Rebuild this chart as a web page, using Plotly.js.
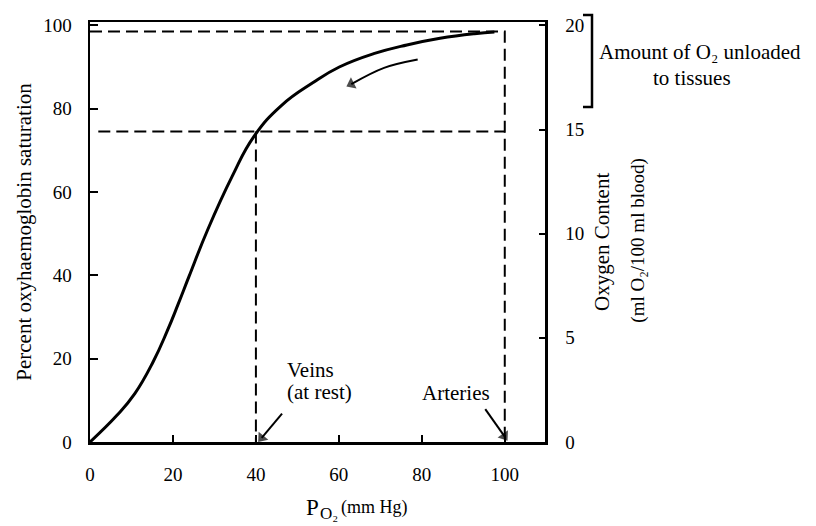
<!DOCTYPE html>
<html>
<head>
<meta charset="utf-8">
<script src="https://cdn.plot.ly/plotly-3.0.1.min.js"></script>
<style>html,body{margin:0;padding:0;background:#fff;}#chart{width:816px;height:526px;}</style>
</head>
<body>
<div id="chart"></div>
<script>
// Oxyhaemoglobin dissociation curve
const po2 = [0, 6.5, 10.8, 15.2, 18.6, 21.3, 23.9, 28.4, 34.3, 39.5, 46.2, 53.7, 60.1, 68.4, 76.4, 84.4, 92.7, 97.5];
const saturation = [0, 6.4, 11.6, 19.2, 26.6, 33.2, 39.8, 51.0, 63.8, 73.3, 80.8, 86.2, 90.0, 93.2, 95.3, 96.9, 98.0, 98.4];

// reference points
const veinsPO2 = 40, veinsSat = 74.5;
const arteriesPO2 = 100, arteriesSat = 98.5;
const dashStartPO2 = 2;

// tick labels
const xTicks = [0, 20, 40, 60, 80, 100];
const yTicks = [0, 20, 40, 60, 80, 100];
const y2Ticks = [0, 5, 10, 15, 20];

// arrows (tail ... head)
const curveArrowX = [79, 70.9, 63];
const curveArrowY = [91.8, 89.8, 85.9];
const veinsArrowX = [46.3, 41.4];
const veinsArrowY = [6.8, 1.0];
const arteriesArrowX = [95.3, 99.9];
const arteriesArrowY = [7.9, 1.4];

const serif = "Liberation Serif, Times New Roman, serif";
const dashPat = "12px,6px";

function arrowTrace(xs, ys, spline) {
  const n = xs.length;
  return {x: xs, y: ys, type: "scatter", mode: "lines+markers", hoverinfo: "skip", cliponaxis: false,
    line: {color: "#000", width: 2, shape: spline ? "spline" : "linear"},
    marker: {symbol: xs.map((_, i) => i === n - 1 ? "triangle-up" : "circle"),
             size: xs.map((_, i) => i === n - 1 ? 11 : 0),
             angleref: "previous", color: "#000", line: {width: 0}}};
}

const traces = [
  {x: po2, y: saturation, type: "scatter", mode: "lines",
   line: {color: "#000", width: 3, shape: "spline", smoothing: 1.3}, hoverinfo: "skip", cliponaxis: false},
  {x: [0, arteriesPO2, arteriesPO2], y: [arteriesSat, arteriesSat, 0], type: "scatter", mode: "lines",
   line: {color: "#000", width: 2, dash: dashPat}, hoverinfo: "skip"},
  {x: [dashStartPO2, arteriesPO2], y: [veinsSat, veinsSat], type: "scatter", mode: "lines",
   line: {color: "#000", width: 2, dash: dashPat}, hoverinfo: "skip"},
  {x: [veinsPO2, veinsPO2], y: [veinsSat, 0], type: "scatter", mode: "lines",
   line: {color: "#000", width: 2, dash: dashPat}, hoverinfo: "skip"},
  arrowTrace(curveArrowX, curveArrowY, true),
  arrowTrace(veinsArrowX, veinsArrowY, false),
  arrowTrace(arteriesArrowX, arteriesArrowY, false),
  {x: [0, 100], y: [0, 20], yaxis: "y2", type: "scatter", mode: "none", hoverinfo: "skip"}
];

const layout = {
  width: 816, height: 526,
  margin: {l: 90, r: 271, t: 22, b: 84},
  paper_bgcolor: "#fff", plot_bgcolor: "#fff",
  showlegend: false,
  font: {family: serif, color: "#000", size: 19},
  xaxis: {
    range: [0, 109.7], tickvals: xTicks, ticktext: xTicks.map(String),
    ticks: "inside", ticklen: 7, tickwidth: 2, tickcolor: "#000",
    showline: true, linewidth: 2.5, linecolor: "#000", mirror: true,
    showgrid: false, zeroline: false, ticklabelstandoff: 14,
    tickfont: {family: serif, size: 19}
  },
  yaxis: {
    range: [0, 100.8], tickvals: yTicks, ticktext: yTicks.map(String),
    ticks: "inside", ticklen: 8, tickwidth: 2, tickcolor: "#000",
    showline: true, linewidth: 2.5, linecolor: "#000",
    showgrid: false, zeroline: false, ticklabelstandoff: 12,
    tickfont: {family: serif, size: 19},
    title: {text: "Percent oxyhaemoglobin saturation", font: {family: serif, size: 21}, standoff: 6}
  },
  yaxis2: {
    overlaying: "y", side: "right", range: [0, 20.16], tickvals: y2Ticks, ticktext: y2Ticks.map(String),
    ticks: "inside", ticklen: 6, tickwidth: 2, tickcolor: "#000",
    showline: true, linewidth: 2.5, linecolor: "#000",
    showgrid: false, zeroline: false, ticklabelstandoff: 14,
    tickfont: {family: serif, size: 19}
  },
  shapes: [
    {type: "path", xref: "paper", yref: "paper",
     path: "M 1.0835 1.0167 L 1.1033 1.0167 L 1.1033 0.7976 L 1.0835 0.7976",
     line: {color: "#000", width: 2.5}}
  ],
  annotations: [
    {xref: "paper", yref: "paper", x: 0.470, y: -0.1548, xanchor: "left", yanchor: "middle",
     text: "P", showarrow: false, font: {family: serif, size: 23}},
    {xref: "paper", yref: "paper", x: 0.501, y: -0.171, xanchor: "left", yanchor: "middle",
     text: "O₂", showarrow: false, font: {family: serif, size: 17}},
    {xref: "paper", yref: "paper", x: 0.547, y: -0.1548, xanchor: "left", yanchor: "middle",
     text: "(mm Hg)", showarrow: false, font: {family: serif, size: 18}},
    {xref: "x", yref: "y", x: 47.1, y: 17.3, xanchor: "left", yanchor: "middle", text: "Veins",
     showarrow: false, font: {family: serif, size: 21}},
    {xref: "x", yref: "y", x: 47.1, y: 12.0, xanchor: "left", yanchor: "middle", text: "(at rest)",
     showarrow: false, font: {family: serif, size: 21}},
    {xref: "x", yref: "y", x: 88.2, y: 11.8, xanchor: "center", yanchor: "middle", text: "Arteries",
     showarrow: false, font: {family: serif, size: 21}},
    {xref: "paper", yref: "paper", x: 1.114, y: 0.9286, xanchor: "left", yanchor: "middle",
     text: "Amount of O₂ unloaded", showarrow: false, font: {family: serif, size: 21}},
    {xref: "paper", yref: "paper", x: 1.322, y: 0.8667, xanchor: "center", yanchor: "middle",
     text: "to tissues", showarrow: false, font: {family: serif, size: 21}},
    {xref: "paper", yref: "paper", x: 1.125, y: 0.476, xanchor: "center", yanchor: "middle",
     text: "Oxygen Content", textangle: -90, showarrow: false, font: {family: serif, size: 21}},
    {xref: "paper", yref: "paper", x: 1.204, y: 0.479, xanchor: "center", yanchor: "middle",
     text: "(ml O₂/100 ml blood)", textangle: -90, showarrow: false, font: {family: serif, size: 19}}
  ]
};

Plotly.newPlot("chart", traces, layout, {displayModeBar: false, staticPlot: true});
</script>
</body>
</html>
